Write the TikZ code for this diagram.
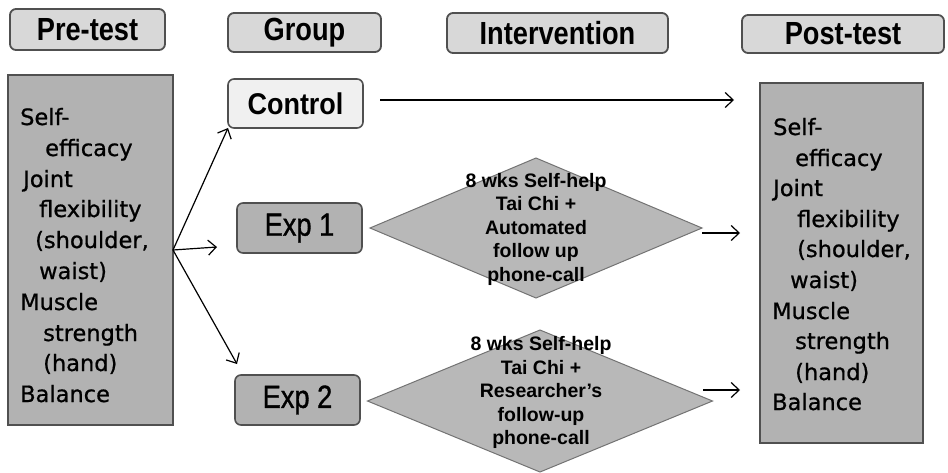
\documentclass[tikz,border=0pt]{standalone}
\usepackage{fontspec}
\setmainfont{Liberation Sans}
\newfontfamily\dejavu[FakeBold=0.8]{DejaVu Sans}
\newfontfamily\expfont[FakeBold=1.2]{Liberation Sans}
\usetikzlibrary{arrows.meta,shapes.geometric,calc}
\definecolor{hdrfill}{HTML}{D8D8D8}
\definecolor{boxfill}{HTML}{B2B2B2}
\definecolor{dfill}{HTML}{B8B8B8}
\definecolor{ctrlfill}{HTML}{F0F0F0}
\definecolor{edge}{HTML}{505050}
\tikzset{
  hdr/.style={draw=edge, line width=1.8pt, fill=hdrfill, rounded corners=6pt, inner sep=0pt, outer sep=0pt,
    font=\fontsize{32}{34}\selectfont\bfseries},
  grp/.style={draw=edge, line width=1.6pt, rounded corners=6pt, inner sep=0pt, outer sep=0pt,
    font=\fontsize{30}{32}\selectfont\bfseries},
  bigbox/.style={draw=edge, line width=1.4pt, fill=boxfill, inner sep=0pt, outer sep=0pt},
  dia/.style={diamond, draw=edge!80, line width=1pt, fill=dfill, inner sep=0pt, outer sep=0pt},
  dtext/.style={align=center, inner sep=0pt, font=\fontsize{19.5}{23.5}\selectfont\bfseries},
  item/.style={anchor=base west, inner sep=0pt, font=\dejavu\fontsize{22.5}{24}\selectfont},
  arr/.style={-{Straight Barb[length=8pt,width=15pt]}, line width=1.2pt, black}
}
\begin{document}
\begin{tikzpicture}[x=1pt,y=-1pt]
\useasboundingbox (0,0) rectangle (948,472);
% headers
\node[hdr, minimum width=155pt, minimum height=41pt] (pre) at (87.5,29.5) {\scalebox{0.85}[1]{Pre-test}};
\node[hdr, minimum width=153pt, minimum height=39pt] (grp) at (304.5,32.5) {\scalebox{0.85}[1]{Group}};
\node[hdr, minimum width=221pt, minimum height=40pt] (int) at (557.5,33) {\scalebox{0.85}[1]{Intervention}};
\node[hdr, minimum width=202pt, minimum height=38pt] (post) at (843,34) {\scalebox{0.85}[1]{Post-test}};
% big boxes
\node[bigbox, minimum width=165pt, minimum height=350pt] (lbox) at (90.5,250) {};
\node[bigbox, minimum width=163pt, minimum height=360pt] (rbox) at (841.5,263) {};
% group boxes
\node[grp, fill=ctrlfill, minimum width=135pt, minimum height=49pt] (ctrl) at (295.5,103.5) {\scalebox{0.9}[1]{Control}};
\node[grp, fill=boxfill, minimum width=125pt, minimum height=50pt, font=\expfont\fontsize{32}{34}\selectfont] (exp1) at (299.5,228) {\scalebox{0.85}[1]{Exp 1}};
\node[grp, fill=boxfill, minimum width=125pt, minimum height=50pt, font=\expfont\fontsize{32}{34}\selectfont] (exp2) at (297.5,400) {\scalebox{0.85}[1]{Exp 2}};
% diamonds
\node[dia, minimum width=332pt, minimum height=140pt] (d1) at (536,228) {};
\node[dia, minimum width=345pt, minimum height=142pt] (d2) at (540,401) {};
\node[dtext] (t1) at (536,229) {8 wks Self-help\\Tai Chi +\\Automated\\follow up\\phone-call};
\node[dtext] (t2) at (541,392.5) {8 wks Self-help\\Tai Chi +\\Researcher's\\follow-up\\phone-call};
% left box text
\foreach \x/\y/\t [count=\i] in {20/125/Self-, 45/156/efficacy, 23/187/Joint, 39/217/flexibility, 35/248/{(shoulder,}, 39/279/waist), 20/310/Muscle, 43/341/strength, 43/371/(hand), 20/402/Balance}
  \node[item] (l\i) at (\x,\y) {\t};
% right box text
\foreach \x/\y/\t [count=\i] in {773/135/Self-, 795/166/efficacy, 773/196/Joint, 797/227/flexibility, 797/257/{(shoulder,}, 790/288/waist), 772/319/Muscle, 795/349/strength, 795/380/(hand), 772/410/Balance}
  \node[item] (r\i) at (\x,\y) {\t};
% coordinates for free ends
\coordinate (e1end) at (217,247);
\coordinate (e2end) at (237,364);
\coordinate (cend) at (734,100);
\coordinate (a1end) at (740,233);
\coordinate (a2start) at (703,390);
\coordinate (a2end) at (740,390);
% connectors
\draw[arr] (lbox.east) -- (ctrl.south west);
\draw[arr] (lbox.east) -- (e1end);
\draw[arr] (lbox.east) -- (e2end);
\draw[arr] ([xshift=17pt,yshift=3.5pt]ctrl.east) -- (cend);
\draw[arr] ([yshift=-5pt]d1.east) -- (a1end);
\draw[arr] (a2start) -- (a2end);
\end{tikzpicture}
\end{document}
